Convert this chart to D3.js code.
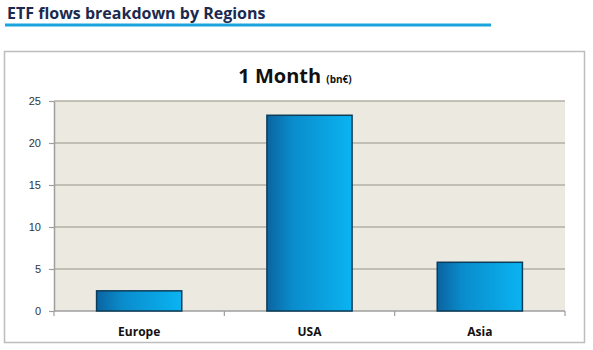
<!DOCTYPE html>
<html><head><meta charset="utf-8">
<script src="https://cdn.jsdelivr.net/npm/d3@7"></script>
<style>body{margin:0;background:#fff;}svg{display:block;font-family:"Open Sans","DejaVu Sans",sans-serif;}</style>
</head><body>
<svg id="c" width="593" height="350"></svg>
<script>
const pageTitle = "ETF flows breakdown by Regions";
const chartTitle = "1 Month";
const chartUnit = "(bn€)";
const categories = ["Europe", "USA", "Asia"];
const values = [2.4, 23.3, 5.8];
const yTicks = [0, 5, 10, 15, 20, 25];

const svg = d3.select("#c");
const m = {left: 54, right: 565, top: 101, bottom: 311};

// page header
svg.append("text").attr("x", 7).attr("y", 19).attr("fill", "#1b2a4e")
  .attr("font-size", 16).attr("font-weight", "bold").text(pageTitle);
svg.append("line").attr("x1", 5).attr("x2", 491).attr("y1", 25).attr("y2", 25)
  .attr("stroke", "#1aa3dc").attr("stroke-width", 3);

// outer chart box
svg.append("rect").attr("x", 4.5).attr("y", 51.5).attr("width", 580).attr("height", 291)
  .attr("fill", "#fff").attr("stroke", "#bdbdbd").attr("stroke-width", 1.5);

// chart title
const t = svg.append("text").attr("x", 295).attr("y", 83).attr("text-anchor", "middle")
  .attr("fill", "#111").attr("font-weight", "bold");
t.append("tspan").attr("font-size", 20).text(chartTitle + " ");
t.append("tspan").attr("font-size", 10).text(chartUnit);

const x = d3.scaleBand().domain(categories).range([m.left, m.right]).paddingInner(0.5).paddingOuter(0.25);
const y = d3.scaleLinear().domain([0, 25]).range([m.bottom, m.top]);

// plot bg
svg.append("rect").attr("x", m.left).attr("y", m.top).attr("width", m.right - m.left)
  .attr("height", m.bottom - m.top).attr("fill", "#ece9e0");

// gridlines
svg.append("g").selectAll("line").data(yTicks.filter(d => d > 0)).join("line")
  .attr("x1", m.left).attr("x2", m.right).attr("y1", d => y(d)).attr("y2", d => y(d))
  .attr("stroke", "#b3afa5").attr("stroke-width", 1.5);

// y axis
const ya = svg.append("g").attr("transform", `translate(${m.left},0)`)
  .call(d3.axisLeft(y).tickValues(yTicks).tickSize(5).tickSizeOuter(0).tickPadding(8));
ya.select(".domain").attr("stroke", "#9e9e9e").attr("stroke-width", 1.5);
ya.selectAll(".tick line").attr("stroke", "#9e9e9e").attr("stroke-width", 1.2);
ya.selectAll("text").attr("font-size", 11).attr("fill", "#333");

// gradient
const defs = svg.append("defs");
const g = defs.append("linearGradient").attr("id", "bg").attr("x1", "0").attr("x2", "1").attr("y1", "0").attr("y2", "0");
g.append("stop").attr("offset", "0%").attr("stop-color", "#0b64a0");
g.append("stop").attr("offset", "30%").attr("stop-color", "#0a8ccc");
g.append("stop").attr("offset", "100%").attr("stop-color", "#0ab4f2");

// x axis
const boundaries = [m.left, ...categories.slice(1).map(c => x(c) - x.step() * x.paddingInner() / 2), m.right];
const xa = svg.append("g").attr("transform", `translate(0,${m.bottom})`);
xa.append("line").attr("x1", m.left).attr("x2", m.right).attr("stroke", "#9e9e9e").attr("stroke-width", 1.5);
xa.selectAll("line.tk").data(boundaries).join("line").attr("class", "tk")
  .attr("x1", d => d).attr("x2", d => d).attr("y1", 0).attr("y2", 5)
  .attr("stroke", "#9e9e9e").attr("stroke-width", 1.2);
xa.selectAll("text").data(categories).join("text")
  .attr("x", d => x(d) + x.bandwidth() / 2).attr("y", 25).attr("text-anchor", "middle")
  .attr("font-size", 12).attr("font-weight", "bold").attr("fill", "#111").text(d => d);

// bars
svg.append("g").selectAll("rect").data(categories).join("rect")
  .attr("x", d => x(d)).attr("width", x.bandwidth())
  .attr("y", (d, i) => y(values[i])).attr("height", (d, i) => y(0) - y(values[i]))
  .attr("fill", "url(#bg)").attr("stroke", "#0d3c58").attr("stroke-width", 1.5);
</script>
</body></html>
